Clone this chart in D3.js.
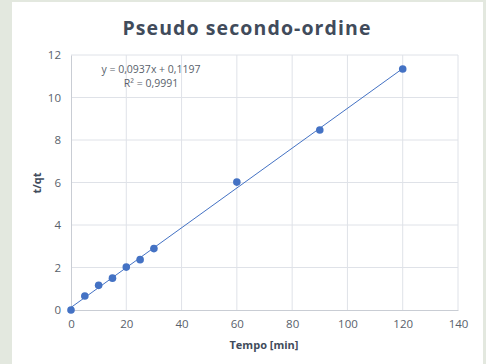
<!DOCTYPE html>
<html>
<head>
<meta charset="utf-8">
<script src="https://cdn.jsdelivr.net/npm/d3@7"></script>
<style>
  html, body { margin: 0; padding: 0; background: #e3e8df; }
  svg { display: block; }
</style>
</head>
<body>
<svg id="chart" width="486" height="364"></svg>
<script>
// Pseudo second-order kinetics: t/qt against time
const tempo = [0, 5, 10, 15, 20, 25, 30, 60, 90, 120];
const tSuQt = [0, 0.66, 1.16, 1.5, 2.02, 2.37, 2.89, 6.02, 8.47, 11.34];
const slope = 0.0937;
const intercept = 0.1197;
const xTicks = [0, 20, 40, 60, 80, 100, 120, 140];
const yTicks = [0, 2, 4, 6, 8, 10, 12];
const titleText = "Pseudo secondo-ordine";
const xLabel = "Tempo [min]";
const yLabel = "t/qt";
const eqLines = ["y = 0,0937x + 0,1197", "R² = 0,9991"];

const fmt = d3.formatLocale({decimal: ",", thousands: ".", grouping: [3], currency: ["", ""]}).format("d");
const font = "'Open Sans', 'DejaVu Sans', sans-serif";
const svg = d3.select("#chart");

// white chart panel
svg.append("rect").attr("x", 12).attr("y", 2).attr("width", 471).attr("height", 362).attr("fill", "#ffffff");

const x = d3.scaleLinear().domain([0, 140]).range([71, 458]);
const y = d3.scaleLinear().domain([0, 12]).range([310, 55]);

// gridlines
svg.append("g").selectAll("line").data(yTicks.slice(1)).join("line")
  .attr("x1", x(0)).attr("x2", x(140)).attr("y1", d => y(d)).attr("y2", d => y(d))
  .attr("stroke", "#dfe2e8").attr("stroke-width", 1);
svg.append("g").selectAll("line").data(xTicks.slice(1)).join("line")
  .attr("y1", y(0)).attr("y2", y(12)).attr("x1", d => x(d)).attr("x2", d => x(d))
  .attr("stroke", "#dfe2e8").attr("stroke-width", 1);

// axes
const xAxis = svg.append("g").attr("transform", `translate(0,${y(0)})`)
  .call(d3.axisBottom(x).tickValues(xTicks).tickSize(0).tickPadding(10).tickFormat(fmt));
const yAxis = svg.append("g").attr("transform", `translate(${x(0)},0)`)
  .call(d3.axisLeft(y).tickValues(yTicks).tickSize(0).tickPadding(10).tickFormat(fmt));
[xAxis, yAxis].forEach(g => {
  g.select(".domain").attr("stroke", "#c9cdd4");
  g.selectAll("text").attr("font-family", font).attr("font-size", 11.5).attr("fill", "#595f6b");
});

// trendline
svg.append("line")
  .attr("x1", x(0)).attr("y1", y(intercept))
  .attr("x2", x(120)).attr("y2", y(slope * 120 + intercept))
  .attr("stroke", "#4472c4").attr("stroke-width", 1);

// data points
svg.append("g").selectAll("circle").data(tempo).join("circle")
  .attr("cx", d => x(d)).attr("cy", (d, i) => y(tSuQt[i])).attr("r", 3.8)
  .attr("fill", "#4472c4");

// title
svg.append("text").attr("x", 247).attr("y", 35).attr("text-anchor", "middle")
  .attr("font-family", font).attr("font-weight", "bold").attr("font-size", 19.5)
  .attr("letter-spacing", 1.1)
  .attr("fill", "#414b5b").text(titleText);

// axis titles
svg.append("text").attr("x", 264).attr("y", 349).attr("text-anchor", "middle")
  .attr("font-family", font).attr("font-weight", "bold").attr("font-size", 11)
  .attr("fill", "#414b5b").text(xLabel);
svg.append("text").attr("transform", "translate(41,183) rotate(-90)").attr("text-anchor", "middle")
  .attr("font-family", font).attr("font-weight", "bold").attr("font-size", 11)
  .attr("fill", "#414b5b").text(yLabel);

// regression equation
svg.append("g").selectAll("text").data(eqLines).join("text")
  .attr("x", 151).attr("y", (d, i) => 73 + i * 13.5).attr("text-anchor", "middle")
  .attr("font-family", font).attr("font-size", 10.5).attr("fill", "#595f6b").text(d => d);
</script>
</body>
</html>
